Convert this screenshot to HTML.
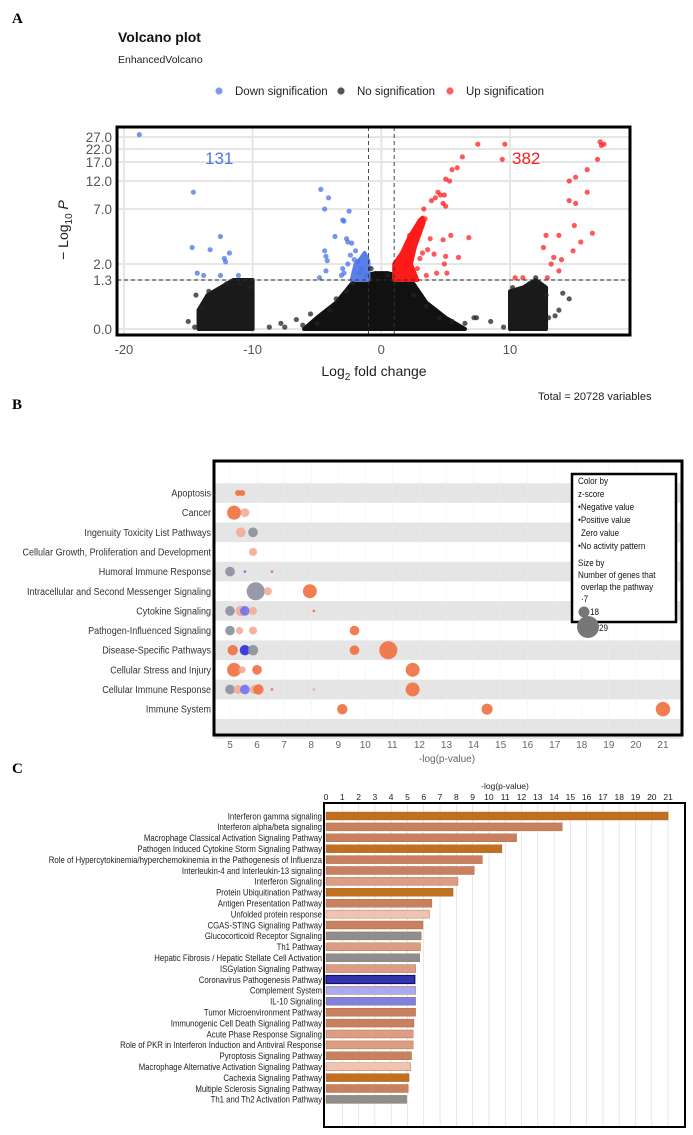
<!DOCTYPE html>
<html><head><meta charset="utf-8"><style>
body{margin:0;background:#fff}
svg{display:block;font-family:"Liberation Sans",sans-serif}
</style></head><body>
<svg id="fig" width="693" height="1135" viewBox="0 0 693 1135" xmlns="http://www.w3.org/2000/svg">
<text x="12" y="23" font-family="Liberation Serif" font-weight="bold" font-size="15">A</text>
<text x="118" y="42" font-weight="bold" font-size="14" fill="#111">Volcano plot</text>
<text x="118" y="63" font-size="10.5" fill="#222">EnhancedVolcano</text>
<g id="volcanoLegend" font-size="11.5" fill="#222"></g>
<g id="volcano"></g>
<text x="538" y="400" font-size="11" fill="#222">Total = 20728 variables</text>

<text x="12" y="409" font-family="Liberation Serif" font-weight="bold" font-size="15">B</text>
<g id="bubble"></g>

<text x="12" y="773" font-family="Liberation Serif" font-weight="bold" font-size="15">C</text>
<g id="barc"></g>
</svg>
<script>
// ---------- Panel A data ----------
const vxTicks = [-20, -10, 0, 10];
const vyTicks = [0, 1.3, 2, 7, 12, 17, 22, 27];
const vyTickLabels = ["0.0","1.3","2.0","7.0","12.0","17.0","22.0","27.0"];
const downPoints = [[-18.8,28],[-14.6,10],[-14.7,3.5],[-13.3,3.3],[-12.5,4.5],[-12.2,2.5],[-12.1,2.2],[-11.8,3],[-14.3,1.6],[-13.8,1.5],[-12.5,1.5],[-11.1,1.5],[-4.7,10.5],[-4.1,9],[-4.4,7],[-3.0,6],[-2.9,5.9],[-2.5,6.8],[-3.6,4.5],[-2.7,4.3],[-2.6,4.0],[-4.4,3.2],[-4.3,2.7],[-4.2,2.3],[-4.3,1.7],[-4.8,1.4],[-3.1,1.5],[-2.9,1.6],[-2.3,3.9],[-2.0,3.2],[-2.4,2.8],[-2.1,2.4],[-1.8,2.2],[-2.6,2.0],[-3.0,1.8],[-1.5,1.8],[-1.7,1.6],[-1.2,1.5]];
const upPoints = [[17.0,25],[17.3,24],[17.1,23.5],[16.8,18],[16.0,15],[15.1,13],[14.6,12],[16.0,10],[14.6,8.5],[15.1,8],[15,5.5],[16.4,4.8],[13.8,4.6],[12.8,4.6],[15.5,4],[12.6,3.5],[14.9,3.2],[13.4,2.6],[14.0,2.4],[13.2,2],[13.8,1.7],[12.9,1.4],[10.4,1.4],[11.0,1.4],[9.4,18],[9.6,24],[7.5,24],[6.3,19],[5.9,15.5],[5.5,15],[5.0,12.5],[5.3,12],[4.4,10],[4.6,9.5],[4.2,9],[4.9,9.5],[3.9,8.5],[4.8,8],[5.0,7.5],[3.3,7],[5.4,4.6],[6.8,4.4],[4.8,4.2],[3.8,4.3],[3.6,3.3],[4.1,2.9],[5.0,2.7],[6.0,2.6],[4.9,2.0],[5.1,1.6],[3.5,1.5],[4.3,1.6],[2.8,1.8],[3.0,2.5],[3.2,3.0],[2.6,3.8],[2.2,4.6],[2.9,5.2],[3.1,5.6],[3.4,6.1]];
const nsPoints = [[-15.0,0.2],[-14.5,0.05],[-14.4,0.9],[-14.0,0.55],[-13.4,1.0],[-12.0,1.2],[-11.0,1.2],[-10.2,1.1],[-8.7,0.05],[-7.8,0.15],[-7.5,0.05],[-6.6,0.25],[-6.1,0.1],[-5.5,0.4],[-5.0,0.15],[-4.0,0.5],[-3.5,0.8],[-2.7,1.0],[-2.2,1.2],[-0.8,1.8],[0.5,1.5],[2.5,0.9],[3.5,0.6],[4.5,0.3],[5.5,0.2],[6.5,0.15],[7.2,0.3],[7.4,0.3],[8.5,0.2],[9.5,0.05],[10.2,1.1],[11.5,1.2],[12.0,1.4],[12.8,0.9],[13.0,0.3],[13.8,0.5],[14.1,0.95],[14.6,0.8],[13.5,0.35]];
const nsMain = [[-6,0],[-5,0.3],[-3.5,0.7],[-2.3,1.2],[-1.3,1.5],[-0.5,1.6],[0.5,1.6],[1.3,1.5],[2.5,1.2],[3.5,0.7],[5,0.3],[6.5,0]];
const nsLeft = [[-14.2,0],[-14.2,0.5],[-13.5,0.9],[-12.5,1.1],[-11.5,1.3],[-10,1.3],[-10,0]];
const nsRight = [[10,0],[10,1.0],[11,1.1],[12,1.3],[12.8,1.1],[12.8,0]];
const upWedge = [[1,1.3],[1.0,2.0],[1.6,3],[2.2,4.5],[3.0,6],[3.2,6.2],[3.3,5.8],[2.6,3.5],[2.3,2],[2.8,1.3]];
const downWedge = [[-1,1.3],[-1,2.3],[-1.3,3.0],[-1.6,2.5],[-2.0,2],[-2.3,1.3]];

// ---------- Panel B data ----------
const bCats = ["Apoptosis","Cancer","Ingenuity Toxicity List Pathways","Cellular Growth, Proliferation and Development","Humoral Immune Response","Intracellular and Second Messenger Signaling","Cytokine Signaling","Pathogen-Influenced Signaling","Disease-Specific Pathways","Cellular Stress and Injury","Cellular Immune Response","Immune System"];
const bRow = [0,0,1,1,2,2,3,4,4,4,5,5,5,6,6,6,6,6,7,7,7,7,8,8,8,8,8,9,9,9,9,10,10,10,10,10,10,10,10,11,11,11];
const bVal = [5.3,5.45,5.15,5.55,5.4,5.85,5.85,5.0,5.55,6.55,5.95,6.4,7.95,5.0,5.4,5.55,5.85,8.1,5.0,5.35,5.85,9.6,5.1,5.55,5.85,9.6,10.85,5.15,5.45,6.0,11.75,5.0,5.3,5.55,5.9,6.05,6.55,8.1,11.75,9.15,14.5,21];
const bGenes = [9,9,20,12,13,13,11,13,7,7,29,11,20,13,14,13,11,7,13,10,11,13,14,14,14,13,29,20,10,13,20,13,12,13,12,14,7,7,20,14,15,21];
const bType = ["p","p","p","l","l","g","l","g","b","p","g","l","p","g","l","b","l","p","g","l","l","p","p","n","g","p","p","p","l","p","p","g","l","b","l","p","p","l","p","p","p","p"];
const bXTicks = [5,6,7,8,9,10,11,12,13,14,15,16,17,18,19,20,21];

// ---------- Panel C data ----------
const cCats = ["Interferon gamma signaling","Interferon alpha/beta signaling","Macrophage Classical Activation Signaling Pathway","Pathogen Induced Cytokine Storm Signaling Pathway","Role of Hypercytokinemia/hyperchemokinemia in the Pathogenesis of Influenza","Interleukin-4 and Interleukin-13 signaling","Interferon Signaling","Protein Ubiquitination Pathway","Antigen Presentation Pathway","Unfolded protein response","CGAS-STING Signaling Pathway","Glucocorticoid Receptor Signaling","Th1 Pathway","Hepatic Fibrosis / Hepatic Stellate Cell Activation","ISGylation Signaling Pathway","Coronavirus Pathogenesis Pathway","Complement System","IL-10 Signaling","Tumor Microenvironment Pathway","Immunogenic Cell Death Signaling Pathway","Acute Phase Response Signaling","Role of PKR in Interferon Induction and Antiviral Response","Pyroptosis Signaling Pathway","Macrophage Alternative Activation Signaling Pathway","Cachexia Signaling Pathway","Multiple Sclerosis Signaling Pathway","Th1 and Th2 Activation Pathway"];
const cVals = [21,14.5,11.7,10.8,9.6,9.1,8.1,7.8,6.5,6.35,5.95,5.85,5.8,5.75,5.5,5.45,5.5,5.5,5.5,5.4,5.35,5.35,5.25,5.2,5.1,5.05,4.95];
const cType = ["d","m","m","d","m","m","l","d","m","p","m","g","l","g","l","B","b1","b2","m","m","l","l","m","p","d","m","g"];
const cTicks = [0,1,2,3,4,5,6,7,8,9,10,11,12,13,14,15,16,17,18,19,20,21];

const NS="http://www.w3.org/2000/svg";
function mk(parent,tag,attrs,text){const e=document.createElementNS(NS,tag);for(const k in attrs)e.setAttribute(k,attrs[k]);if(text!==undefined)e.textContent=text;parent.appendChild(e);return e;}

// ---------- Panel A ----------
(function(){
  const g=document.getElementById('volcano');
  const X0=117,X1=630,Y0=127,Y1=335;
  const xs=v=>381.3+v*12.87;
  const yPix=[329,280,264,209,181,162,149,137];
  const ys=v=>{for(let i=0;i<vyTicks.length-1;i++){if(v<=vyTicks[i+1]){const t=(v-vyTicks[i])/(vyTicks[i+1]-vyTicks[i]);return yPix[i]+t*(yPix[i+1]-yPix[i]);}}
    const n=vyTicks.length-1;return yPix[n]+(v-vyTicks[n])*(yPix[n]-yPix[n-1])/(vyTicks[n]-vyTicks[n-1]);};
  vyTicks.forEach(v=>{const l=mk(g,'line',{x1:X0,x2:X1,y1:ys(v),y2:ys(v),stroke:'#e6e6e6','stroke-width':2});
    
    });
  vxTicks.forEach(v=>{const l=mk(g,'line',{x1:xs(v),x2:xs(v),y1:Y0,y2:Y1,stroke:'#e6e6e6','stroke-width':2});
    
    });
  const poly=(pts,fill,name)=>{const p=mk(g,'polygon',{points:pts.map(q=>xs(q[0])+','+ys(q[1])).join(' '),fill:fill,stroke:fill,'stroke-width':4,'stroke-linejoin':'round'});
    
    };
  poly(nsMain,'#111','ns-cloud-center');poly(nsLeft,'#1a1a1a','ns-cloud-left');poly(nsRight,'#1a1a1a','ns-cloud-right');
  poly(upWedge,'#ff1a1a','up-cloud');poly(downWedge,'#5a80e8','down-cloud');
  const dots=(arr,fill,name)=>arr.forEach(p=>{const c=mk(g,'circle',{cx:xs(p[0]),cy:ys(p[1]),r:2.6,fill:fill,'fill-opacity':0.75});
    
    });
  dots(nsPoints,'#222','ns-point');dots(downPoints,'#4a74e8','down-point');dots(upPoints,'#ff2020','up-point');
  [[xs(-1),Y0,xs(-1),Y1],[xs(1),Y0,xs(1),Y1],[X0,ys(1.3),X1,ys(1.3)]].forEach(c=>{const l=mk(g,'line',{x1:c[0],y1:c[1],x2:c[2],y2:c[3],stroke:'#333','stroke-width':0.9,'stroke-dasharray':'4,3'});
    
    });
  const fr=mk(g,'rect',{x:X0,y:Y0,width:X1-X0,height:Y1-Y0,fill:'none',stroke:'#000','stroke-width':3});
  
  
  vyTicks.forEach((v,i)=>{const t=mk(g,'text',{x:112,y:ys(v)+5,'text-anchor':'end','font-size':13.5,fill:'#555'},vyTickLabels[i]);
    
    });
  vxTicks.forEach(v=>{const t=mk(g,'text',{x:xs(v),y:354,'text-anchor':'middle','font-size':13,fill:'#555'},String(v));
    
    });
  const xt=mk(g,'text',{x:374,y:376,'text-anchor':'middle','font-size':14,fill:'#222'});
  xt.innerHTML='Log<tspan font-size="10" dy="4">2</tspan><tspan dy="-4"> fold change</tspan>';
  
  
  const yt=mk(g,'text',{x:0,y:0,'text-anchor':'middle','font-size':14,fill:'#222',transform:'translate(68,230) rotate(-90)'});
  yt.innerHTML='− Log<tspan font-size="10" dy="4">10</tspan><tspan dy="-4" font-style="italic"> P</tspan>';
  
  
  const a=mk(g,'text',{x:205,y:164,'font-size':17,fill:'#4a74e8'},'131');
  
  
  const b=mk(g,'text',{x:512,y:164,'font-size':17,fill:'#ff1a1a'},'382');
  
  
  const lg=document.getElementById('volcanoLegend');
  [[219,'#7d9be8','Down signification'],[341,'#555','No signification'],[450,'#ff6060','Up signification']].forEach(e=>{
    const c=mk(lg,'circle',{cx:e[0],cy:91,r:3.6,fill:e[1]});
    
    
    const t=mk(lg,'text',{x:e[0]+16,y:95},e[2]);
    
    });
})();

// ---------- Panel B ----------
(function(){
  const g=document.getElementById('bubble');
  const X0=214,X1=682,Y0=461,Y1=735;
  const xs=v=>230+(v-5)*27.06;
  const ys=i=>493+i*19.65;
  const rs=n=>Math.sqrt(Math.max(0.3,n-6.5))*1.9;
  const col={p:'#f07040',l:'#f3ab92',g:'#8a8f9c',b:'#7070ee',n:'#2b2bdd'};
  for(let i=0;i<=bCats.length;i++){ if(i%2===0){const r=mk(g,'rect',{x:X0,y:ys(i)-9.8,width:X1-X0,height:19.65,fill:'#e5e5e5'});
    
    }}
  bXTicks.forEach(v=>{const l=mk(g,'line',{x1:xs(v),x2:xs(v),y1:Y0,y2:Y1,stroke:'#ececec','stroke-width':0.6,'stroke-opacity':0.7});
    
    });
  bRow.forEach((r,i)=>{const c=mk(g,'circle',{cx:xs(bVal[i]),cy:ys(r),r:rs(bGenes[i]),fill:col[bType[i]],'fill-opacity':0.9});
    
    });
  const fr=mk(g,'rect',{x:X0,y:Y0,width:X1-X0,height:Y1-Y0,fill:'none',stroke:'#000','stroke-width':3});
  
  
  bCats.forEach((c,i)=>{const t=mk(g,'text',{x:0,y:0,'text-anchor':'end','font-size':10.5,fill:'#333',transform:'translate(211,'+(ys(i)+3.5)+') scale(0.86,1)'},c);
    
    });
  bXTicks.forEach(v=>{const t=mk(g,'text',{x:xs(v),y:748,'text-anchor':'middle','font-size':10,fill:'#666'},String(v));
    
    });
  const xt=mk(g,'text',{x:447,y:762,'text-anchor':'middle','font-size':10,fill:'#666'},'-log(p-value)');
  
  
  const L=mk(g,'g',{});
  
  
  const lr=mk(L,'rect',{x:572,y:474,width:104,height:148,fill:'#fff',stroke:'#000','stroke-width':2.5});
  
  
  const lines=[[578,484,'Color by'],[578,497,'z-score'],[578,510,'•Negative value'],[578,523,'•Positive value'],[581,536,'Zero value'],[578,549,'•No activity pattern'],[578,566,'Size by'],[578,578,'Number of genes that'],[581,590,'overlap the pathway'],[581,602,'·7'],[590,615,'18'],[599,631,'29']];
  lines.forEach((l,i)=>{const t=mk(L,'text',{x:0,y:0,'font-size':9.5,fill:'#111',transform:'translate('+l[0]+','+l[1]+') scale(0.85,1)'},l[2]);
    
    });
  const c1=mk(L,'circle',{cx:584,cy:612,r:5.5,fill:'#777'});
  
  
  const c2=mk(L,'circle',{cx:588,cy:627,r:11,fill:'#777'});
  
  
})();

// ---------- Panel C ----------
(function(){
  const g=document.getElementById('barc');
  const X0=324,X1=685,Y0=803,Y1=1127;
  const xs=v=>326+v*16.29;
  const ys=i=>816+i*10.9;
  const col={d:'#c0701f',m:'#c98060',l:'#dd9c84',p:'#f1c3b2',g:'#8e8e8e',B:'#3434b0',b1:'#aaaaf0',b2:'#8080dd'};
  cTicks.forEach(v=>{if(v>0){const l=mk(g,'line',{x1:xs(v),x2:xs(v),y1:Y0,y2:Y1,stroke:'#d8d8d8','stroke-width':0.6});
    
    }});
  cVals.forEach((v,i)=>{const r=mk(g,'rect',{x:xs(0),y:ys(i)-4,width:xs(v)-xs(0),height:8,fill:col[cType[i]],stroke:cType[i]==='B'?'#111166':'#a0652f','stroke-width':cType[i]==='B'?1.2:0.4});
    
    });
  const fr=mk(g,'rect',{x:X0,y:Y0,width:X1-X0,height:Y1-Y0,fill:'none',stroke:'#000','stroke-width':2});
  
  
  cCats.forEach((c,i)=>{const t=mk(g,'text',{x:0,y:0,'text-anchor':'end','font-size':9.5,fill:'#222',transform:'translate(322,'+(ys(i)+3.3)+') scale(0.82,1)'},c);
    
    });
  cTicks.forEach(v=>{const t=mk(g,'text',{x:xs(v),y:800,'text-anchor':'middle','font-size':8.5,fill:'#222'},String(v));
    
    });
  const xt=mk(g,'text',{x:505,y:789,'text-anchor':'middle','font-size':8.5,fill:'#222'},'-log(p-value)');
  
  
})();
</script>
</body></html>
